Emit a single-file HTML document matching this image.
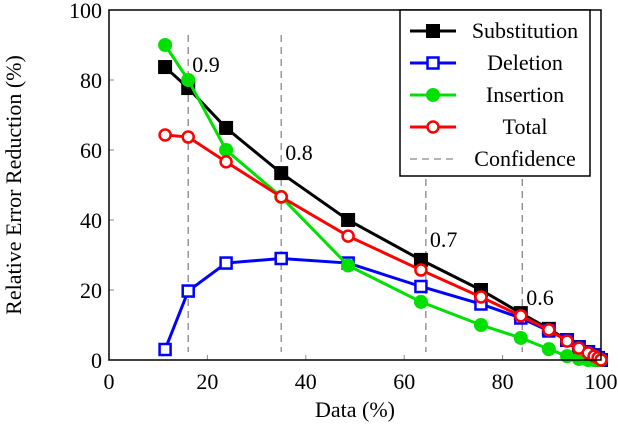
<!DOCTYPE html>
<html><head><meta charset="utf-8"><style>
body{margin:0;background:#fff}
svg text{font-family:"Liberation Serif",serif;fill:#000}
</style></head><body>
<svg id="c" width="618" height="434" xmlns="http://www.w3.org/2000/svg"></svg>
<script>
const xVals=[11.4,16.1,23.8,35,48.6,63.4,75.6,83.7,89.4,93.1,95.5,97.4,98.6,99.4,100];
const subVals=[83.7,77.7,66.3,53.4,40,28.6,20,13.4,8.9,5.7,3.7,2.3,1.4,0.6,0];
const delVals=[3,19.7,27.7,29,27.7,21,16,12,8.3,5.7,3.7,2.3,1.4,0.6,0];
const insVals=[90,80,60,46.6,27,16.6,10,6.3,3.1,1.1,0.3,0,0,0,0];
const totVals=[64.3,63.7,56.6,46.6,35.4,25.7,18,12.6,8.6,5.4,3.4,2,1.1,0.6,0];
const confX=[16.1,35,64.4,84];
const confLabels=["0.9","0.8","0.7","0.6"];
const xTicks=[0,20,40,60,80,100];
const yTicks=[0,20,40,60,80,100];
const NS="http://www.w3.org/2000/svg";
const svg=document.getElementById('c');
const L=109,R=601,T=10,B=360;
const FS=22;
const sx=v=>L+(v/100)*(R-L), sy=v=>B-(v/100)*(B-T);
function mk(tag,attrs,parent){const e=document.createElementNS(NS,tag);for(const k in attrs)e.setAttribute(k,attrs[k]);(parent||svg).appendChild(e);return e;}
xTicks.forEach(t=>{
 const g=mk('line',{x1:sx(t),x2:sx(t),y1:B,y2:B-5,stroke:'#888','stroke-width':1});
 
 
 const tx=mk('text',{x:sx(t),y:B+29,'text-anchor':'middle','font-size':FS});tx.textContent=t;
 
 
});
yTicks.forEach(t=>{
 const g=mk('line',{x1:L,x2:L+5,y1:sy(t),y2:sy(t),stroke:'#888','stroke-width':1});
 
 
 const tx=mk('text',{x:L-7,y:sy(t)+8,'text-anchor':'end','font-size':FS});tx.textContent=t;
 
 
});
confX.forEach((c,i)=>{
 const l=mk('line',{x1:sx(c),x2:sx(c),y1:35,y2:B-8,stroke:'#888','stroke-width':1.3,'stroke-dasharray':'7,5'});
 
 
 const yy=[72,160,247,305][i];
 const tx=mk('text',{x:sx(c)+4,y:yy,'font-size':FS});tx.textContent=confLabels[i];
 
 
});
function series(vals,color,marker,name){
 const g=mk('g',{});
 
 
 const p=mk('polyline',{points:xVals.map((x,i)=>sx(x)+','+sy(vals[i])).join(' '),fill:'none',stroke:color,'stroke-width':3},g);
 
 
 xVals.forEach((x,i)=>{drawMarker(g,sx(x),sy(vals[i]),color,marker,name);});
}
function drawMarker(g,x,y,color,marker,name){
 let m;
 if(marker==='sq') m=mk('rect',{x:x-7,y:y-7,width:14,height:14,fill:color},g);
 else if(marker==='osq') m=mk('rect',{x:x-5.5,y:y-5.5,width:11,height:11,fill:'#fff',stroke:color,'stroke-width':2.5},g);
 else if(marker==='dot') m=mk('circle',{cx:x,cy:y,r:7,fill:color},g);
 else m=mk('circle',{cx:x,cy:y,r:5.5,fill:'#fff',stroke:color,'stroke-width':2.5},g);
 
 
}
series(subVals,'#000','sq','substitution');
series(delVals,'#0000ff','osq','deletion');
series(insVals,'#00e000','dot','insertion');
series(totVals,'#ff0000','oc','total');
const ax=mk('rect',{x:L,y:T,width:R-L,height:B-T,fill:'none',stroke:'#000','stroke-width':1.5});


const lg=mk('g',{});


mk('rect',{x:400,y:10,width:190,height:166,fill:'#fff',stroke:'#000','stroke-width':1.5},lg);
const names=['Substitution','Deletion','Insertion','Total','Confidence'];
const cols=['#000','#0000ff','#00e000','#ff0000','#888'];
const mks=['sq','osq','dot','oc',null];
names.forEach((n,i)=>{
 const y=31+i*32;
 const e=mk('g',{},lg);
 
 
 if(mks[i]){mk('line',{x1:410,x2:456,y1:y,y2:y,stroke:cols[i],'stroke-width':3},e);drawMarker(e,433,y,cols[i],mks[i],'legend');}
 else mk('line',{x1:410,x2:456,y1:y,y2:y,stroke:cols[i],'stroke-width':1.3,'stroke-dasharray':'7,5'},e);
 const t=mk('text',{x:525,y:y+7,'text-anchor':'middle','font-size':FS},e);t.textContent=n;
});
const xt=mk('text',{x:355,y:417,'text-anchor':'middle','font-size':FS});xt.textContent='Data (%)';


const yt=mk('text',{x:0,y:0,'text-anchor':'middle','font-size':FS,transform:'translate(21,185) rotate(-90)'});yt.textContent='Relative Error Reduction (%)';


</script>
</body></html>
